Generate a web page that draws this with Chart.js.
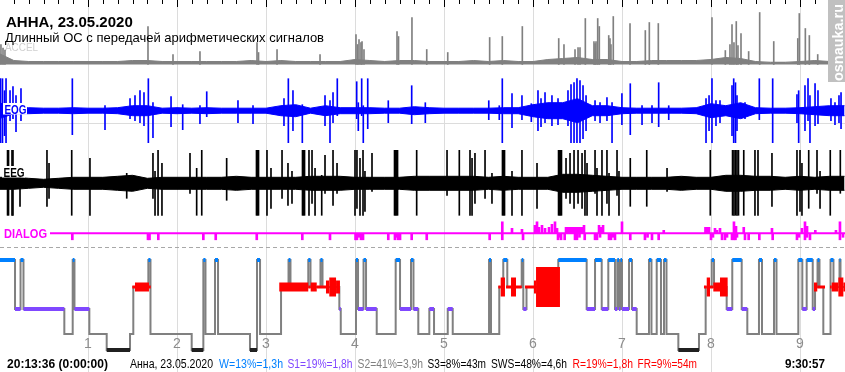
<!DOCTYPE html>
<html lang="ru">
<head>
<meta charset="UTF-8">
<title>АННА, 23.05.2020</title>
<script src="https://cdn.jsdelivr.net/npm/chart.js"></script>
<style>
  html, body { margin: 0; padding: 0; background: #fff; }
  canvas { display: block; }
</style>
</head>
<body>
<canvas id="psg" width="845" height="372"></canvas>
<script>
// ---- данные (время в часах от начала, ось "1..9") ----
const hourValues = [1, 2, 3, 4, 5, 6, 7, 8, 9];
const hourLabels = ['1', '2', '3', '4', '5', '6', '7', '8', '9'];

// огибающие каналов по 10-минутным отрезкам (58 точек, шаг 1/6 ч)
const accelBand = [11,4,3,3,3,3,3,3,3,4,4,3,3,3,3,3,3,4,3,4,3,3,3,3,5,4,3,4,4,3,3,3,4,3,4,3,3,5,6,7,5,5,3,3,4,4,4,4,5,7,6,3,2,2,3,4,3,3];
const eogBand   = [8,3,3,2.5,2.5,3,2.5,2.5,3,5,5,2.5,3,2.5,3,2.5,2.5,2.5,2.5,5,6,2.5,5,3,3,3,2.5,2.5,4,3,2.5,2.5,2.5,2.5,3,3,6,8,8,12,5,5,3,2.5,2.5,2.5,2.5,3,7,5,8,3,2.5,2.5,3,4,5,5];
const eegBand   = [6,6,5,4,5,6,6,6,7,8,5,6,6,6,6,6,7,6,6,6,6,7,7,7,6,6,6,6,7,7,7,7,7,6,7,6,6,6,9,9,8,7,6,6,6,6,7,6,6,8,8,7,7,6,7,6,7,7];

// ACCEL: выбросы
const accelSpikeT = [0.022,0.045,0.067,1.674,1.955,2.258,2.899,2.916,3.124,3.607,4.011,4.028,4.045,4.067,4.079,4.101,4.472,4.489,4.640,4.806,5.042,5.513,5.655,5.880,6.289,6.348,6.472,6.506,6.528,6.588,6.685,6.697,6.708,6.727,6.745,6.851,6.865,6.876,6.902,7.090,7.262,7.307,7.408,8.011,8.161,8.213,8.236,8.258,8.284,8.303,8.337,8.423,8.547,8.705,8.975,8.992,9.060,9.105,9.199];
const accelSpikeV = [20,16.5,14.5,38,10,13,22,12,15,10,30,20,25,22,23,15,33,28,47,15,12,27,28,38,26,20,15,17,17,46,23,21,23,46,38,29,26,20,48,41,34,42,41,47,14,20,40,22,43,19,31,13,52,23,26,51,36,29,10];

// EOG: выбросы (верх / низ)
const eogSpikeT = [0.017,0.039,0.062,0.079,0.124,0.157,0.191,0.247,0.824,1.191,1.472,1.528,1.584,1.629,1.678,1.730,1.933,2.064,2.258,2.334,2.685,2.854,3.202,3.251,3.303,3.408,3.663,3.719,3.753,3.801,4.019,4.037,4.075,4.093,4.143,4.374,4.637,4.790,5.503,5.621,5.655,5.764,5.876,5.981,6.056,6.090,6.135,6.213,6.281,6.393,6.427,6.461,6.494,6.528,6.562,6.596,6.697,6.753,6.831,6.888,6.999,7.093,7.225,7.337,7.412,7.525,7.944,7.978,8.011,8.056,8.101,8.236,8.255,8.275,8.292,8.382,8.543,8.693,8.966,8.985,9.056,9.090,9.112,9.169,9.202,9.348,9.393,9.438,9.461];
const eogSpikeHi = [32,32,20,32,20,24,15,22,32,5,12,15,20,18,32,8,14,6,5,19,10,5,12,32,20,6,15,10,18,32,29,8,32,5,32,10,25,8,10,5,32,17,15,7,20,12,18,15,12,20,26,28,32,30,25,15,10,8,13,8,17,27,5,5,28,5,12,15,32,10,10,25,32,28,15,8,32,32,16,20,25,32,15,27,20,12,8,15,18];
const eogSpikeLo = [-32,-32,-25,-32,-10,-8,-21,-10,-24,-19,-8,-10,-12,-15,-32,-27,-16,-19,-13,-6,-12,-13,-15,-32,-20,-32,-15,-32,-12,-5,-8,-20,-5,-32,-18,-12,-13,-12,-9,-9,-32,-17,-9,-11,-20,-16,-12,-15,-14,-15,-32,-32,-32,-32,-28,-20,-10,-12,-10,-32,-14,-24,-14,-12,-16,-9,-32,-20,-32,-15,-12,-25,-32,-32,-20,-8,-9,-32,-12,-32,-20,-10,-32,-15,-13,-10,-14,-12,-18];

// EEG: выбросы (верх / низ)
const eegSpikeT = [0.096,0.107,0.146,0.157,0.236,0.539,0.562,0.817,1.022,1.435,1.730,1.753,1.787,1.831,2.146,2.221,2.278,2.558,2.893,2.904,2.916,3.011,3.056,3.180,3.247,3.292,3.410,3.421,3.433,3.483,3.517,3.551,3.626,3.663,3.753,3.798,4.000,4.022,4.056,4.090,4.112,4.191,4.444,4.455,4.466,4.478,4.693,5.034,5.172,5.292,5.315,5.348,5.461,5.539,5.657,5.669,5.680,5.764,5.876,6.045,6.287,6.298,6.309,6.320,6.371,6.416,6.461,6.506,6.551,6.584,6.607,6.697,6.719,6.775,6.831,6.854,6.944,6.966,7.093,7.278,7.506,7.992,8.242,8.258,8.275,8.292,8.309,8.368,8.494,8.528,8.685,8.966,9.000,9.022,9.098,9.191,9.225,9.340,9.453];
const eegSpikeHi = [33,33,33,33,13,33,20,33,25,10,30,12,33,20,30,15,33,25,33,33,33,33,15,33,20,12,33,33,33,33,33,15,8,28,33,20,33,33,25,33,12,30,33,33,33,33,33,33,33,33,25,30,33,10,33,33,33,12,33,20,33,33,33,33,25,30,33,33,30,33,20,33,15,33,33,10,33,12,25,33,15,33,33,33,33,33,33,33,33,33,30,33,33,20,33,33,12,33,33];
const eegSpikeLo = [-32,-32,-32,-32,-23,-23,-15,-32,-32,-15,-15,-32,-32,-32,-10,-32,-32,-17,-32,-32,-32,-32,-25,-15,-22,-20,-32,-32,-32,-32,-20,-32,-32,-10,-22,-10,-32,-25,-32,-32,-28,-8,-32,-32,-32,-32,-32,-12,-32,-32,-32,-20,-15,-20,-32,-32,-32,-32,-32,-25,-32,-32,-32,-32,-15,-20,-25,-20,-25,-32,-32,-10,-32,-32,-20,-32,-12,-32,-23,-23,-8,-32,-32,-32,-32,-32,-32,-32,-32,-32,-23,-32,-28,-32,-25,-10,-25,-32,-10];

// DIALOG: отметки вниз и вверх
const dialogDownT = [0.824,1.674,1.691,1.790,2.296,2.435,2.896,3.408,3.719,4.006,4.022,4.045,4.067,4.090,4.374,4.449,4.466,4.483,4.506,4.637,4.806,5.513,5.655,5.888,6.281,6.298,6.315,6.356,6.472,6.494,6.522,6.581,6.697,6.719,6.753,6.854,6.876,6.899,6.921,7.093,7.258,7.287,7.337,7.412,8.000,8.022,8.124,8.157,8.180,8.236,8.258,8.275,8.292,8.382,8.423,8.543,8.693,8.966,8.989,9.056,9.079,9.112,9.449,9.483];
const dialogDownV = [-6.5,-6.5,-6.5,-6.5,-6.5,-6.5,-6.5,-6.5,-6.5,-6.5,-6.5,-4,-6.5,-6.5,-6.5,-6.5,-4,-6.5,-6.5,-6.5,-6.5,-6.5,-6.5,-6.5,-6.5,-4,-6.5,-6.5,-6.5,-6.5,-4,-6.5,-6.5,-6.5,-4,-6.5,-6.5,-4,-6.5,-6.5,-6.5,-4,-6.5,-6.5,-6.5,-4,-6.5,-6.5,-4,-6.5,-6.5,-6.5,-4,-6.5,-6.5,-6.5,-6.5,-6.5,-4,-6.5,-4,-6.5,-6.5,-4];
const dialogUpT = [5.655,5.764,5.876,6.022,6.045,6.067,6.101,6.135,6.180,6.213,6.247,6.270,6.371,6.393,6.416,6.438,6.461,6.483,6.506,6.528,6.551,6.573,6.742,6.764,6.787,7.000,7.469,7.938,7.955,7.978,8.045,8.067,8.101,8.258,8.281,8.368,8.685,9.022,9.056,9.079,9.172,9.404,9.449];
const dialogUpV = [11.5,5,4,8,11.5,6,8,5,6,9,11.5,5,6,6,6,6,6,6,6,6,6,8,8,6,8,11.5,3,6,6,6,5,3,5,11.5,7,6,5,5,11.5,7,3,3,11.5];

// гипнограмма: начало стадии и стадия
const hypT = [0.011,0.180,0.242,0.275,0.734,0.828,0.848,1.015,1.210,1.472,
  1.509,1.678,1.702,2.165,2.296,2.320,2.427,2.461,2.820,2.899,
  2.933,3.169,3.253,3.275,3.475,3.500,3.612,3.635,3.824,3.840,
  4.011,4.034,4.096,4.124,4.244,4.457,4.506,4.629,4.657,4.711,
  4.835,4.888,5.042,5.098,5.506,5.528,5.621,5.666,5.711,5.873,
  5.891,5.927,6.284,6.603,6.697,6.772,6.846,6.921,6.947,6.966,
  6.983,7.000,7.079,7.112,7.165,7.303,7.331,7.390,7.438,7.472,
  7.500,7.633,7.865,7.940,8.008,8.034,8.176,8.239,8.345,8.408,
  8.539,8.573,8.708,8.736,8.981,9.026,9.075,9.143,9.169,9.197,
  9.219,9.262,9.343,9.376,9.444,9.455];
const hypS = ['W','S1','W','S1','S2','W','S1','S2','S3','S2',
  'R','W','S2','S3','W','S2','W','S2','S3','W',
  'S2','R','W','R','W','R','W','R','S1','S2',
  'W','S1','W','S1','S2','W','S1','W','S1','S2',
  'S1','S2','S1','S2','W','S2','R','W','R','W',
  'S1','R','W','S1','W','S1','W','S1','W','S1',
  'W','S1','W','S1','S2','W','S2','W','S2','W',
  'S2','S3','S2','R','W','R','S1','W','S1','S2',
  'W','S2','W','S2','W','S1','W','S1','R','W',
  'R','S2','W','R','W','R'];
const hypEnd = 9.506;

// интенсивность REM по участкам (1 — фон, 5 — максимум)
const remFrom  = [1.498,1.528,1.685,3.149,3.475,3.502,3.570,3.674,3.711,3.787,5.610,5.637,5.697,5.753,5.809,5.910,6.011,6.034,7.921,7.952,7.989,8.026,8.101,9.157,9.194,9.337,9.356,9.431,9.487];
const remTo    = [1.528,1.685,1.705,3.475,3.502,3.570,3.674,3.711,3.787,3.831,5.637,5.685,5.753,5.809,5.873,6.022,6.034,6.303,7.952,7.989,8.026,8.101,8.187,9.194,9.281,9.356,9.431,9.487,9.506];
const remLevel = [1,2,1,2,1,2,1,3,4,3,1,4,1,4,1,1,3,5,1,4,1,2,4,2,1,1,2,4,2];

// тексты
const titleText = 'АННА, 23.05.2020';
const subtitleText = 'Длинный ОС с передачей арифметических сигналов';
const startText = '20:13:36 (0:00:00)';
const endText = '9:30:57';
const statsParts = ['Анна, 23.05.2020', 'W=13%=1,3h', 'S1=19%=1,8h', 'S2=41%=3,9h', 'S3=8%=43m', 'SWS=48%=4,6h', 'R=19%=1,8h', 'FR=9%=54m'];
const watermark = 'osnauka.ru';

// ---- оформление ----
const W = 845, H = 372;
const tMin = 0.0112, tMax = 9.5056;
const FONT = '"Liberation Sans", Arial, sans-serif';
const stageLevel = { W: 0, R: 1.2, S1: 2.178, S2: 3.289, S3: 4 };
const stageColor = { W: '#0080ff', S1: '#8048ff', S3: '#202020' };
const remWidth = { 1: 3, 2: 9, 3: 13, 4: 19, 5: 40 };
const statsColor = ['#000', '#0080ff', '#8048ff', '#808080', '#000', '#000', '#ff0000', '#ff0000'];
const statsX = [130, 219, 287.5, 357.5, 427.5, 491, 572.5, 637.5];
const statsW = [83, 64, 65, 65.5, 58.5, 76, 60.5, 59.5];
const dialogStart = 0.573;

function panelAxis(centerPx, pxPerUnit) {
  return { type: 'linear', axis: 'y', display: false, min: -(H - centerPx) / pxPerUnit, max: centerPx / pxPerUnit };
}

const binT = accelBand.map((_, i) => i / 6);
const datasets = [];

function band(axis, amp, color) {
  datasets.push({ type: 'line', yAxisID: axis, data: binT.map((t, i) => ({ x: t, y: -amp[i] })),
    borderColor: color, borderWidth: 1, pointRadius: 0, fill: false, order: 20 });
  datasets.push({ type: 'line', yAxisID: axis, data: binT.map((t, i) => ({ x: t, y: amp[i] })),
    borderColor: color, borderWidth: 1, pointRadius: 0, backgroundColor: color, fill: '-1', order: 20 });
}

function spikes(axis, T, values, color, thickness) {
  datasets.push({ type: 'bar', yAxisID: axis, data: T.map((t, i) => ({ x: t, y: values[i] })),
    backgroundColor: color, barThickness: thickness, grouped: false, order: 19 });
}

// ACCEL
datasets.push({ type: 'line', yAxisID: 'yAcc', data: binT.map((t, i) => ({ x: t, y: accelBand[i] })),
  borderColor: '#808080', borderWidth: 1, pointRadius: 0, backgroundColor: '#808080', fill: 'origin', order: 20 });
spikes('yAcc', accelSpikeT, accelSpikeV, '#808080', 1);

// EOG, EEG
band('yEog', eogBand, '#0000ff');
spikes('yEog', eogSpikeT, eogSpikeT.map((_, i) => [eogSpikeLo[i], eogSpikeHi[i]]), '#0000ff', 1);
band('yEeg', eegBand, '#000000');
spikes('yEeg', eegSpikeT, eegSpikeT.map((_, i) => [eegSpikeLo[i], eegSpikeHi[i]]), '#000000', 1);

// DIALOG
datasets.push({ type: 'line', yAxisID: 'yDlg', data: [{ x: dialogStart, y: 0 }, { x: tMax, y: 0 }],
  borderColor: '#ff00ff', borderWidth: 2, pointRadius: 0, order: 20 });
spikes('yDlg', dialogDownT, dialogDownV, '#ff00ff', 2);
spikes('yDlg', dialogUpT, dialogUpV, '#ff00ff', 2);

// гипнограмма: серая ступенчатая линия
datasets.push({ type: 'line', yAxisID: 'yHyp',
  data: hypT.map((t, i) => ({ x: t, y: stageLevel[hypS[i]] })).concat([{ x: hypEnd, y: stageLevel[hypS[hypS.length - 1]] }]),
  stepped: 'before', borderColor: '#808080', borderWidth: 2, pointRadius: 0, order: 10 });

// цветные участки стадий
['W', 'S1', 'S3'].forEach(st => {
  const pts = [];
  hypT.forEach((t, i) => {
    if (hypS[i] !== st) return;
    const end = i + 1 < hypT.length ? hypT[i + 1] : hypEnd;
    pts.push({ x: t, y: stageLevel[st] }, { x: end, y: stageLevel[st] }, { x: end, y: null });
  });
  datasets.push({ type: 'line', yAxisID: 'yHyp', data: pts, borderColor: stageColor[st], borderWidth: 4,
    borderCapStyle: 'butt', pointRadius: 0, spanGaps: false, order: 2 });
});

// REM по интенсивности
[1, 2, 3, 4, 5].forEach(lv => {
  const pts = [];
  remFrom.forEach((t, i) => {
    if (remLevel[i] !== lv) return;
    pts.push({ x: t, y: stageLevel.R }, { x: remTo[i], y: stageLevel.R }, { x: remTo[i], y: null });
  });
  datasets.push({ type: 'line', yAxisID: 'yHyp', data: pts, borderColor: '#ff0000', borderWidth: remWidth[lv],
    borderCapStyle: 'butt', pointRadius: 0, spanGaps: false, order: 3 });
});

function hline(ctx, y, x0, x1) {
  ctx.beginPath(); ctx.moveTo(x0, y); ctx.lineTo(x1, y); ctx.stroke();
}

const decor = {
  id: 'decor',
  beforeDatasetsDraw(chart) {
    const { ctx, scales } = chart;
    const x = scales.x;
    ctx.save();
    ctx.lineWidth = 1;
    ctx.strokeStyle = '#dcdcdc';
    hourValues.forEach(h => {
      const px = Math.round(x.getPixelForValue(h)) + 0.5;
      ctx.beginPath(); ctx.moveTo(px, 0); ctx.lineTo(px, H); ctx.stroke();
    });
    // опорные линии ACCEL и EOG
    hline(ctx, Math.round(scales.yAcc.getPixelForValue(3.5)) + 0.5, 0, W);
    hline(ctx, Math.round(scales.yEog.getPixelForValue(-12)) + 0.5, 0, W);
    // пунктир над гипнограммой
    ctx.strokeStyle = '#a8a8a8';
    ctx.setLineDash([4, 3]);
    hline(ctx, Math.round(scales.yHyp.getPixelForValue(-0.6)) + 0.5, 0, W);
    ctx.setLineDash([]);
    ctx.fillStyle = '#d0d0d0';
    ctx.font = '11px ' + FONT;
    ctx.fillText('ACCEL', 5, 51, 33);
    ctx.restore();
  },
  afterDatasetsDraw(chart) {
    const { ctx, scales } = chart;
    const x = scales.x;
    ctx.save();

    // метки времени сверху (10 мин)
    ctx.strokeStyle = '#000';
    ctx.lineWidth = 1;
    for (let k = 1; k < 57; k++) {
      const px = Math.round(x.getPixelForValue(k / 6)) + 0.5;
      ctx.beginPath(); ctx.moveTo(px, 0); ctx.lineTo(px, k % 6 === 0 ? 7 : 4); ctx.stroke();
    }

    // заголовок
    ctx.fillStyle = '#000';
    ctx.font = 'bold 15px ' + FONT;
    ctx.fillText(titleText, 6, 27, 128);
    ctx.font = '13px ' + FONT;
    ctx.fillText(subtitleText, 5, 42, 326);

    // подписи каналов
    ctx.font = 'bold 12px ' + FONT;
    ctx.fillStyle = '#fff'; ctx.fillRect(3, 103, 24, 11.5);
    ctx.fillStyle = '#0000ff'; ctx.fillText('EOG', 4.5, 113.5, 22);
    ctx.fillStyle = '#fff'; ctx.fillRect(2, 166, 23, 11.5);
    ctx.fillStyle = '#000'; ctx.fillText('EEG', 3.5, 176.5, 21);
    ctx.fillStyle = '#ff00ff'; ctx.fillText('DIALOG', 4, 237.5, 43);

    // часы
    ctx.fillStyle = '#8c8c8c';
    ctx.font = '14px ' + FONT;
    ctx.textAlign = 'center';
    hourValues.forEach((h, i) => ctx.fillText(hourLabels[i], x.getPixelForValue(h), 348));
    ctx.textAlign = 'left';

    // нижняя строка
    ctx.fillStyle = '#000';
    ctx.font = 'bold 13px ' + FONT;
    ctx.fillText(startText, 7, 368, 101);
    ctx.fillText(endText, 785, 368, 40);
    ctx.font = '12px ' + FONT;
    statsParts.forEach((s, i) => {
      ctx.fillStyle = statsColor[i];
      ctx.fillText(s, statsX[i], 368, statsW[i]);
    });

    // водяной знак
    ctx.fillStyle = '#c0c0c0';
    ctx.fillRect(828, 0, 17, 82);
    ctx.translate(842.5, 81);
    ctx.rotate(-Math.PI / 2);
    ctx.fillStyle = '#fff';
    ctx.font = 'bold 15px ' + FONT;
    ctx.fillText(watermark, 0, 0, 77);
    ctx.restore();
  }
};

new Chart(document.getElementById('psg'), {
  type: 'line',
  data: { datasets },
  options: {
    responsive: false,
    animation: false,
    events: [],
    layout: { padding: 0 },
    plugins: { legend: { display: false }, tooltip: { enabled: false }, title: { display: false } },
    scales: {
      x: { type: 'linear', axis: 'x', display: false, offset: false, min: tMin, max: tMax },
      yAcc: panelAxis(64.5, 1),
      yEog: panelAxis(110.7, 1),
      yEeg: panelAxis(183.3, 1),
      yDlg: panelAxis(233.3, 1),
      yHyp: { type: 'linear', axis: 'y', display: false, reverse: true, min: -260 / 22.5, max: (H - 260) / 22.5 }
    }
  },
  plugins: [decor]
});
</script>
</body>
</html>
